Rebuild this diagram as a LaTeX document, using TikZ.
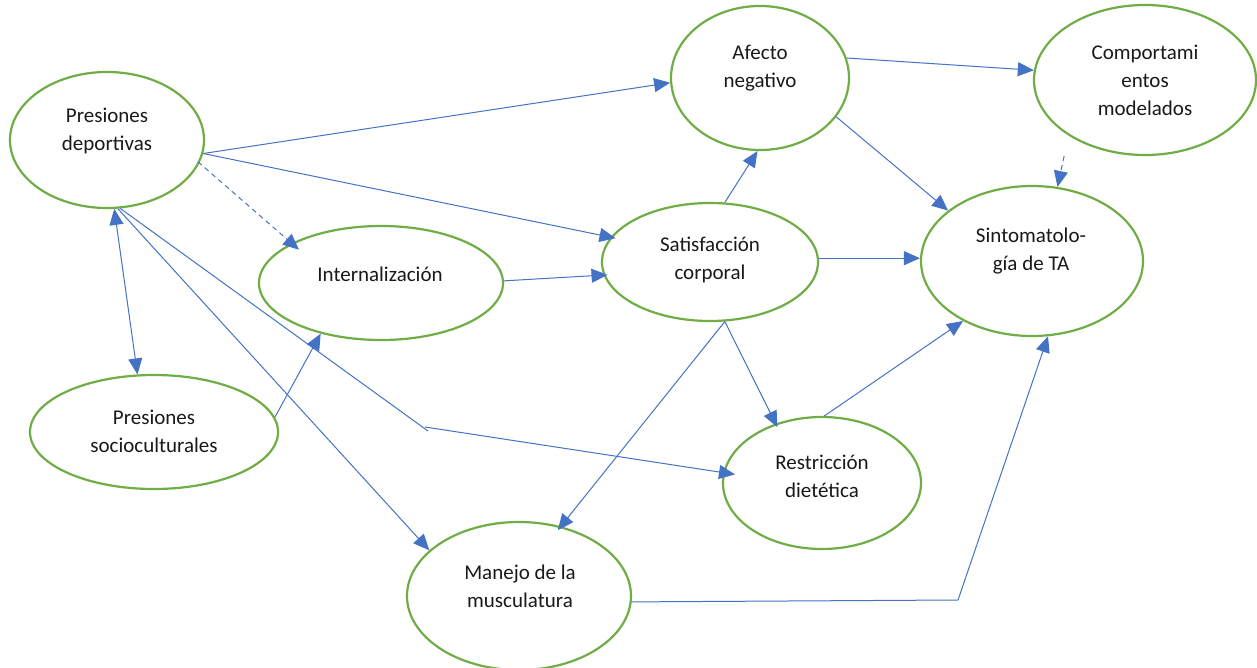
\documentclass[tikz,border=0pt]{standalone}
\usepackage{fontspec}
\setmainfont{Carlito}
\usetikzlibrary{arrows.meta,calc,shapes.geometric}
\definecolor{eg}{HTML}{70AD47}
\definecolor{ab}{HTML}{4472C4}
\begin{document}
\begin{tikzpicture}[x=1pt,y=-1pt,
  ell/.style={draw=eg,line width=2.2pt,ellipse,inner sep=0pt},
  lbl/.style={align=center,inner sep=0pt,font=\fontsize{21}{28}\selectfont,text=black!90},
  arr/.style={draw=ab,line width=1pt,-{Triangle[length=16pt,width=14pt]}},
  darr/.style={draw=ab,line width=1pt,{Triangle[length=16pt,width=14pt]}-{Triangle[length=16pt,width=14pt]}},
  dsh/.style={arr,dash pattern=on 5pt off 4pt},
  pline/.style={draw=ab,line width=1pt}]
\useasboundingbox (0,0) rectangle (1257,668);
\fill[white] (0,0) rectangle (1257,668);
\begin{scope}
\clip (0,0) rectangle (1257,668);
% ellipses
\node[ell,minimum width=194pt,minimum height=136pt] (pd) at (107,140) {};
\node[ell,minimum width=178pt,minimum height=144pt] (af) at (760,78) {};
\node[ell,minimum width=222pt,minimum height=150pt] (cm) at (1145,80) {};
\node[ell,minimum width=222pt,minimum height=150pt] (st) at (1032,261) {};
\node[ell,minimum width=244pt,minimum height=114pt] (in) at (381,283) {};
\node[ell,minimum width=216pt,minimum height=118pt] (sa) at (710,262) {};
\node[ell,minimum width=248pt,minimum height=114pt] (ps) at (154,432) {};
\node[ell,minimum width=198pt,minimum height=132pt] (re) at (822,483) {};
\node[ell,minimum width=224pt,minimum height=148pt] (mm) at (519,596) {};
\end{scope}
% labels
\node[lbl] (tpd) at (107,131) {Presiones\\deportivas};
\node[lbl] (taf) at (760,68) {Afecto\\negativo};
\node[lbl] (tcm) at (1145,80) {Comportami\\entos\\modelados};
\node[lbl] (tst) at (1031,251) {Sintomatolo-\\gía de TA};
\node[lbl] (tin) at (380,274) {Internalización};
\node[lbl] (tsa) at (710,260) {Satisfacción\\corporal};
\node[lbl] (tps) at (154,431) {Presiones\\socioculturales};
\node[lbl] (tre) at (822,476) {Restricción\\dietética};
\node[lbl] (tmm) at (520,586) {Manejo de la\\musculatura};
% bend points
\coordinate (b1a) at (428,431);
\coordinate (b1b) at (425,427);
\coordinate (b2) at (958,600);
% connectors
\draw[arr] (pd.-8) -- (af.183);
\draw[arr,shorten >=-5pt] (pd.-8) -- (sa.166);
\draw[dsh,shorten <=-2pt,shorten >=-10pt] (pd.-14) -- (in.156);
\draw[darr] (pd.-84) -- (ps.106);
\draw[arr] (pd.-81) -- (mm.153);
\draw[pline] (pd.-79) -- (b1a);
\draw[arr,shorten >=-12pt] (b1b) -- (re.174);
\draw[arr] (ps.7) -- (in.220);
\draw[arr,shorten >=-4pt] (in.1) -- (sa.187);
\draw[arr] (sa.76) -- (af.268);
\draw[arr] (af.13) -- (cm.175);
\draw[arr] (af.-27) -- (st.149);
\draw[arr] (sa.2) -- (sa.2 -| st.west);
\draw[dsh,shorten <=21pt] (cm.216) -- (st.71);
\draw[arr,shorten >=-4pt] (sa.-76) -- (re.128);
\draw[arr,shorten >=-5pt] (sa.-76) -- (mm.59);
\draw[arr] (re.88) -- (st.221);
\draw[pline] (mm.-3) -- (b2);
\draw[arr] (b2) -- (st.282);
\end{tikzpicture}
\end{document}
